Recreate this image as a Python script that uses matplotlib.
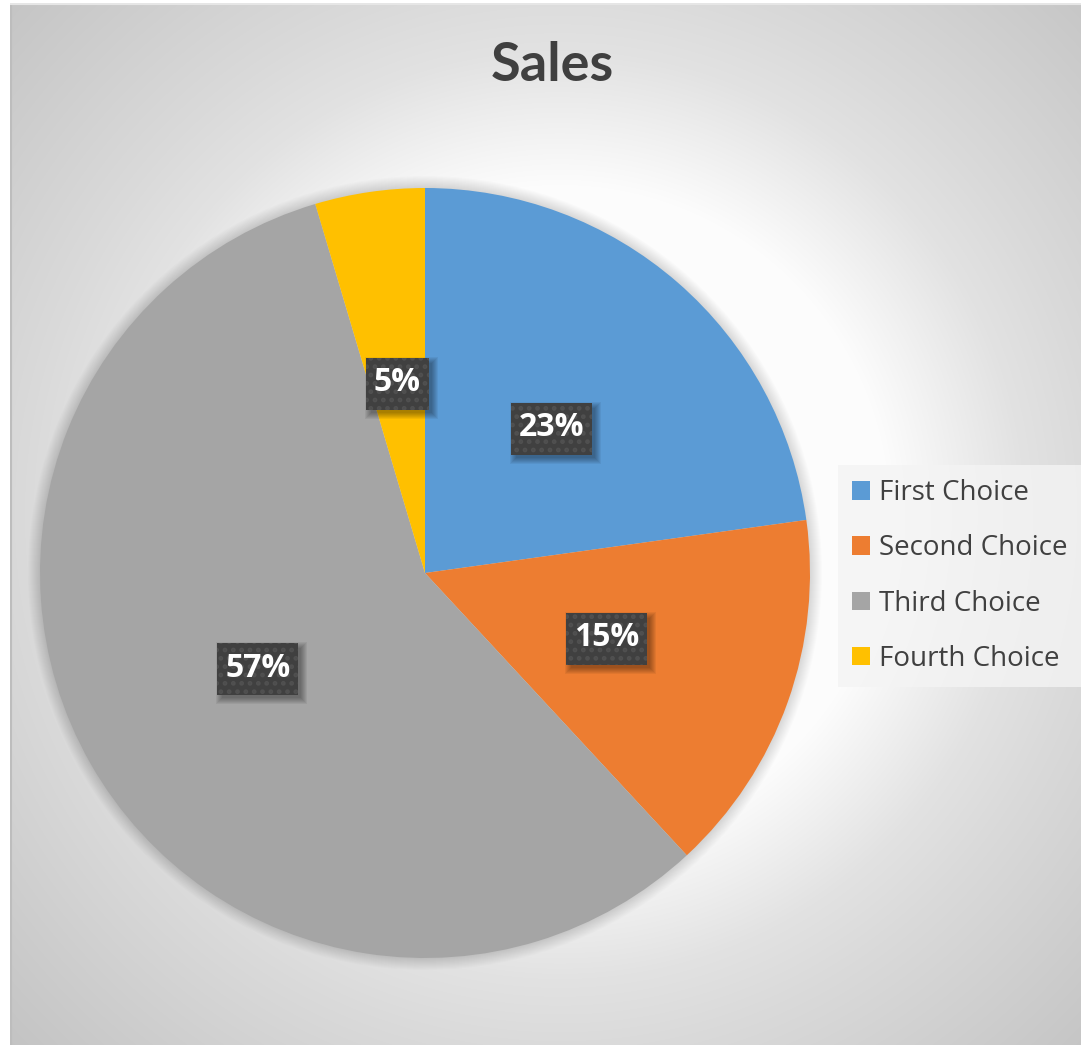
import numpy as np
import matplotlib
matplotlib.use("Agg")
import matplotlib.pyplot as plt
from matplotlib.patches import Patch, Rectangle, Circle
from matplotlib.transforms import IdentityTransform

# ---- data ----
title = "Sales"
categories = ["First Choice", "Second Choice", "Third Choice", "Fourth Choice"]
values = [22.8, 15.3, 57.3, 4.6]
colors = ["#5B9BD5", "#ED7D31", "#A5A5A5", "#FFC000"]

W, H = 1081, 1045
fig = plt.figure(figsize=(W / 100, H / 100), dpi=100)
fig.patch.set_facecolor("white")

def fx(px):
    return px / W

def fy(py):
    return 1 - py / H

# ---- background radial gradient (chart area) ----
x0, x1, y0, y1 = 10, 1081, 3, 1045
bg = fig.add_axes([fx(x0), fy(y1), fx(x1 - x0), (y1 - y0) / H])
bg.set_axis_off()
xx, yy = np.meshgrid(np.arange(x0, x1) + 0.5, np.arange(y0, y1) + 0.5)
d = np.hypot(xx - 560, yy - 515)
v = np.interp(d, [0, 330, 464, 535, 760, 900],
              [254, 252, 226, 218, 196, 192]) / 255.0
bg.imshow(np.dstack([v, v, v]), aspect="auto", extent=(0, 1, 0, 1),
          interpolation="bilinear")
bg.set_xlim(0, 1)
bg.set_ylim(0, 1)
bg.plot([0.0006, 0.0006], [0, 1], color="#bdbdbd", lw=1.5, transform=bg.transAxes)
bg.plot([0, 1], [0.9995, 0.9995], color="#e6e6e6", lw=1.5, transform=bg.transAxes)

plt.rcParams["font.family"] = ["Open Sans", "DejaVu Sans"]

# ---- pie ----
cx, cy, r = 425, 573, 385
ax = fig.add_axes([fx(cx - r), fy(cy + r), 2 * r / W, 2 * r / H])
ax.set_facecolor("none")

# soft shadow around the pie
for k in range(1, 13):
    ax.add_patch(Circle((0, 0), 1 + k / r, facecolor="black", edgecolor="none",
                        alpha=0.013, zorder=0, clip_on=False))

wedges, texts, autotexts = ax.pie(
    values, colors=colors, startangle=90, counterclock=False,
    autopct="%1.0f%%", pctdistance=0.5, radius=1,
    wedgeprops=dict(linewidth=0, zorder=1),
    textprops=dict(color="white", fontsize=23, fontweight="bold",
                   family=["Open Sans", "DejaVu Sans"]),
)
ax.set_xlim(-1, 1)
ax.set_ylim(-1, 1)
ax.set_aspect("auto")
ax.set_axis_off()
for w in wedges:
    w.set_clip_on(False)
for t in autotexts:
    t.set_zorder(5)

# ---- title ----
fig.text(fx(552), fy(81), title, ha="center", va="baseline", fontsize=39,
         fontweight="bold", color="#404040", family=["Lato", "DejaVu Sans"])

# ---- legend ----
handles = [Patch(facecolor=c, edgecolor="none") for c in colors]
leg = fig.legend(handles, categories, loc="center left",
                 bbox_to_anchor=(fx(838), fy(576)), fontsize=20,
                 frameon=True, fancybox=False, facecolor="#f4f4f4", edgecolor="none",
                 framealpha=0.8, handlelength=0.65, handleheight=0.65,
                 handletextpad=0.32, labelspacing=0.98, borderpad=0.5,
                 borderaxespad=0)
for txt in leg.get_texts():
    txt.set_color("#404040")

# ---- label boxes with dotted fill and soft shadow ----
plt.rcParams["hatch.linewidth"] = 2.2
fig.canvas.draw()
padx, boxh = 8, 52
for t in autotexts:
    bb = t.get_window_extent()
    xc = (bb.x0 + bb.x1) / 2
    yc = (bb.y0 + bb.y1) / 2 - 1
    bw = bb.width + 2 * padx
    bl, bb0 = xc - bw / 2, yc - boxh / 2
    for k in range(7):
        ax.add_patch(Rectangle((bl + 4 - k + 1, bb0 - 4 - k + 1), bw + 2 * k - 2, boxh + 2 * k - 2,
                               transform=IdentityTransform(), facecolor="black",
                               edgecolor="none", alpha=0.055, zorder=3))
    ax.add_patch(Rectangle((bl, bb0), bw, boxh, transform=IdentityTransform(),
                           facecolor="#404040", edgecolor="#505050", linewidth=0,
                           hatch="..", zorder=4))

fig.savefig("out.png", dpi=100)
